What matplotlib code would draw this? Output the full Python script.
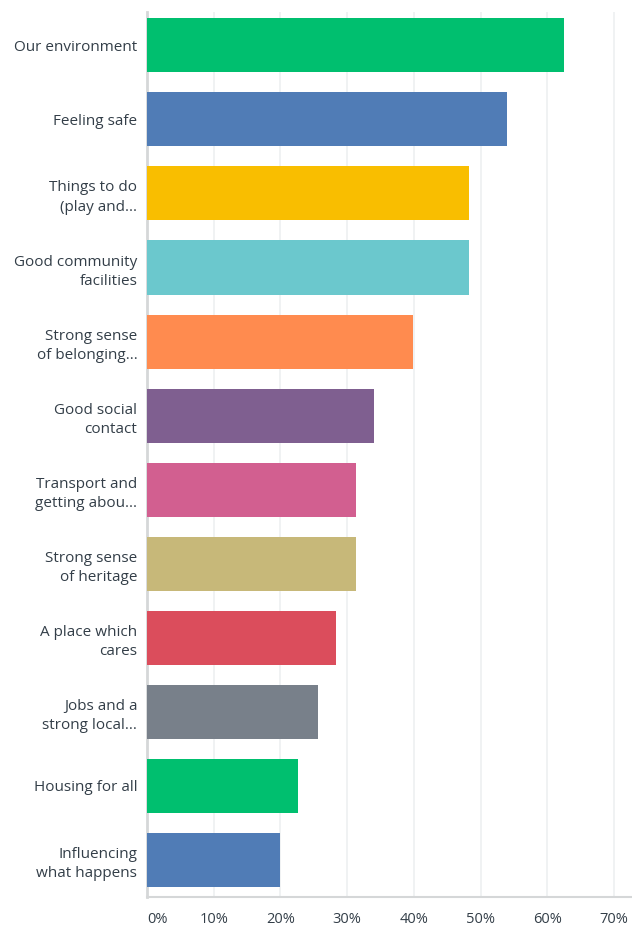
import numpy as np
import matplotlib.pyplot as plt
from matplotlib.ticker import FuncFormatter

# Survey answers (share of respondents, %)
labels = [
    "Our environment",
    "Feeling safe",
    "Things to do\n(play and...",
    "Good community\nfacilities",
    "Strong sense\nof belonging...",
    "Good social\ncontact",
    "Transport and\ngetting abou...",
    "Strong sense\nof heritage",
    "A place which\ncares",
    "Jobs and a\nstrong local...",
    "Housing for all",
    "Influencing\nwhat happens",
]
values = [62.5, 54.0, 48.3, 48.3, 39.8, 34.1, 31.3, 31.3, 28.4, 25.6, 22.7, 19.9]
colors = ["#00BF6F", "#507CB6", "#F9BE00", "#6BC8CD", "#FF8B4F", "#7F5F90",
          "#D25F90", "#C7B879", "#DB4D5C", "#78808A", "#00BF6F", "#507CB6"]
xticks = [0, 10, 20, 30, 40, 50, 60, 70]

plt.rcParams['font.family'] = ['Open Sans', 'DejaVu Sans']
text_col = "#333E48"

fig = plt.figure(figsize=(6.32, 9.32), dpi=100)
ax = fig.add_axes([147 / 632, 35 / 932, 485 / 632, 885 / 932])

y = np.arange(len(labels))
ax.barh(y, values, height=0.73, color=colors, zorder=3)

ax.set_xlim(0, 72.7)
ax.set_ylim(11.5, -0.45)
ax.set_yticks(y)
ax.set_yticklabels(labels, fontsize=11, color=text_col, linespacing=1.4)
ax.set_xticks(xticks)
ax.xaxis.set_major_formatter(FuncFormatter(lambda v, p: f"{v:.0f}%"))
for t in ax.get_xticklabels():
    t.set_fontsize(10.5)
    t.set_color(text_col)
ax.get_xticklabels()[0].set_horizontalalignment('left')

ax.tick_params(axis='y', length=0, pad=7)
ax.tick_params(axis='x', length=0, pad=11)
ax.grid(axis='x', color="#EEF0F1", linewidth=1.2, zorder=0)

for s in ['top', 'right']:
    ax.spines[s].set_visible(False)
ax.spines['left'].set_color("#D5D7D8")
ax.spines['left'].set_linewidth(2)
ax.spines['bottom'].set_color("#D5D7D8")
ax.spines['bottom'].set_linewidth(1.5)

fig.savefig("out.png", dpi=100, facecolor="white")
